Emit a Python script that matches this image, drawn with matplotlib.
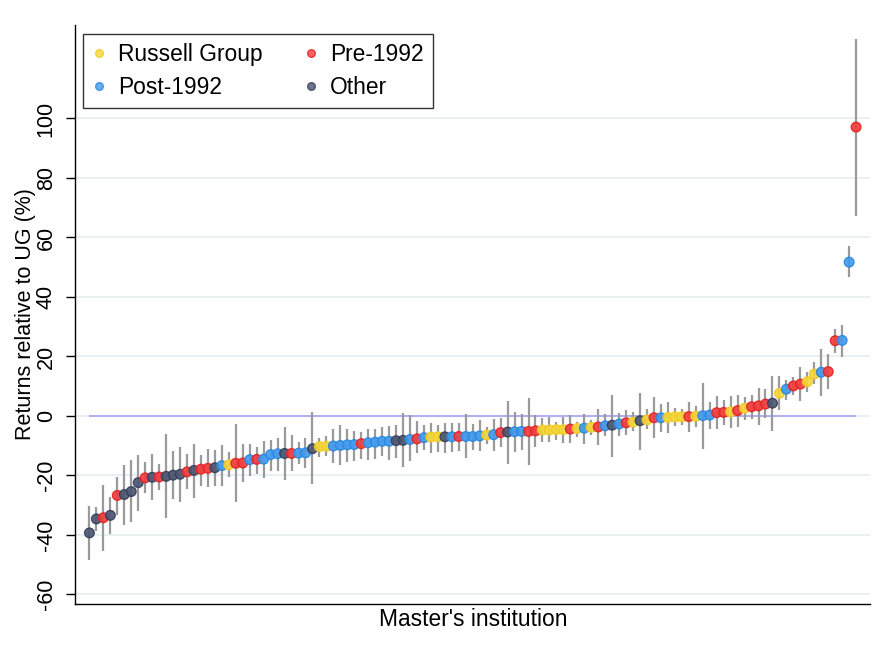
import numpy as np
import matplotlib
matplotlib.use("Agg")
import matplotlib.pyplot as plt
from matplotlib.lines import Line2D

plt.rcParams['font.family'] = ['Liberation Sans', 'DejaVu Sans']

# Institution group: R = Russell Group, P = Pre-1992, N = Post-1992, O = Other
groups = list(
    "OOPOPOOOPOPOOOPOPPONRPPNPNNNOPNNORRNNNNPNNNNOONPNRRONP"
    "NNNRNPONNPPRRRRPRNRPNONPRORP"
    "NRRRPRNNPPRPRPPPORNPPRRNPPNNP"
)

# Estimated return relative to UG (%)
returns = [
    -39.3, -34.6, -34.2, -33.4, -26.7, -26.4, -25.4, -22.4, -20.8, -20.6,
    -20.5, -20.3, -19.9, -19.6, -18.8, -18.3, -17.9, -17.6, -17.4, -16.7,
    -16.4, -15.9, -15.8, -14.7, -14.6, -14.5, -13.0, -12.7, -12.6, -12.6,
    -12.5, -12.4, -11.0, -10.3, -10.2, -10.1, -9.9, -9.7, -9.6, -9.3,
    -9.0, -8.8, -8.5, -8.5, -8.3, -8.2, -7.9, -7.7, -7.3, -7.1,
    -7.0, -7.0, -7.0, -6.9, -6.9, -6.9, -6.7, -6.4, -6.3, -5.6,
    -5.4, -5.3, -5.2, -5.2, -5.0, -4.7, -4.7, -4.6, -4.6, -4.4,
    -4.2, -4.1, -3.8, -3.7, -3.3, -3.1, -2.7, -2.3, -2.1, -1.6,
    -1.3, -0.6, -0.6, -0.5, -0.3, -0.3, -0.2, -0.1, 0.1, 0.3,
    1.1, 1.2, 1.4, 1.8, 2.6, 3.1, 3.4, 4.0, 4.3, 7.6,
    9.0, 10.1, 10.7, 11.5, 14.1, 14.7, 14.9, 25.3, 25.4, 51.7,
    97.1,
]

# Upper and lower ends of the confidence intervals
ci_upper = [
    -30.4, -30.7, -23.1, -27.3, -20.5, -16.4, -14.8, -13.2, -15.6, -12.8,
    -16.3, -6.0, -11.9, -10.4, -12.9, -9.4, -13.2, -11.1, -11.6, -9.6,
    -12.1, -2.7, -9.3, -9.4, -10.5, -8.5, -8.2, -7.4, -3.8, -6.4,
    -8.9, -7.4, 1.3, -7.4, -6.6, -4.4, -2.9, -4.4, -4.9, -5.3,
    -4.4, -4.4, -3.7, -3.5, -3.2, 1.0, 0.4, -1.8, -2.9, -2.3,
    -2.9, -2.3, -2.3, -2.3, 0.6, -2.7, -1.3, -3.8, -1.1, -0.8,
    5.2, 1.5, 0.7, 6.0, 0.3, -0.8, -0.4, -1.9, -0.2, 0.3,
    -1.9, 0.7, -1.3, 2.2, 0.7, 7.1, 1.1, 2.0, 1.3, 7.8,
    2.5, 6.3, 4.0, 4.8, 2.6, 2.2, 4.8, 3.4, 11.2, 4.8,
    6.7, 5.4, 6.7, 7.1, 6.5, 7.1, 9.3, 9.0, 13.5, 13.5,
    12.1, 13.2, 16.4, 14.9, 18.3, 22.5, 20.9, 29.2, 30.6, 57.0,
    126.8,
]
ci_lower = [
    -48.3, -38.8, -45.5, -39.6, -33.4, -36.5, -35.7, -31.8, -25.9, -28.4,
    -24.8, -34.4, -27.9, -28.8, -24.6, -27.6, -23.7, -24.0, -23.4, -23.6,
    -20.5, -28.9, -22.3, -20.1, -19.5, -20.8, -18.6, -18.5, -21.6, -18.5,
    -16.2, -17.5, -23.0, -13.7, -13.5, -15.8, -16.6, -15.5, -15.2, -14.4,
    -14.9, -14.4, -13.5, -14.9, -14.1, -17.1, -15.2, -12.4, -11.3, -12.4,
    -12.1, -12.4, -12.1, -11.8, -14.2, -11.4, -11.7, -9.4, -11.7, -10.5,
    -16.2, -12.0, -11.4, -16.5, -10.3, -8.6, -8.9, -8.1, -9.2, -9.2,
    -6.9, -9.4, -6.3, -9.8, -6.6, -13.7, -6.6, -6.3, -5.1, -11.4,
    -4.5, -7.5, -5.3, -5.8, -3.4, -3.0, -5.3, -3.8, -11.2, -4.4,
    -4.5, -3.0, -4.0, -3.6, -1.3, -0.9, -3.0, -0.8, -4.9, 2.0,
    5.4, 7.1, 5.0, 8.2, 10.8, 6.7, 9.0, 21.3, 19.8, 46.6,
    67.3,
]

group_names = {'R': 'Russell Group', 'P': 'Pre-1992', 'N': 'Post-1992', 'O': 'Other'}
face_colors = {'R': '#f9d736', 'P': '#f43b3b', 'N': '#3f9bf0', 'O': '#4a5470'}
edge_colors = {'R': '#f0c820', 'P': '#e02222', 'N': '#2a86dc', 'O': '#353e58'}
legend_order = ['R', 'N', 'P', 'O']

x = np.arange(1, len(returns) + 1)
y = np.array(returns)
lo = np.array(ci_lower)
hi = np.array(ci_upper)

fig = plt.figure(figsize=(8.84, 6.62), dpi=100)
ax = fig.add_axes([0.0854, 0.0876, 0.8988, 0.8746])

# horizontal grid and reference line at zero
yticks = np.arange(-60, 101, 20)
for t in yticks:
    ax.axhline(t, color='#e7eff1', lw=1.3, zorder=0)
ax.hlines(0, x[0], x[-1], color='#a9a9f2', lw=1.3, zorder=1)

# confidence intervals
ax.vlines(x, lo, hi, color='#9a9a9a', lw=1.6, zorder=2)

# point estimates coloured by group
fc = [face_colors[g] for g in groups]
ec = [edge_colors[g] for g in groups]
ax.scatter(x, y, s=48, c=fc, edgecolors=ec, linewidths=1.0, alpha=0.9, zorder=3)

ax.set_xlim(-1, 113)
ax.set_ylim(-63.2, 131.4)
ax.set_yticks(yticks)
ax.set_yticklabels([str(t) for t in yticks], rotation=90, va='center', fontsize=15.5)
ax.tick_params(axis='y', direction='out', length=6.5, width=1, pad=7)
ax.set_xticks([])

for side in ['top', 'right']:
    ax.spines[side].set_visible(False)
ax.spines['left'].set_linewidth(1.0)
ax.spines['bottom'].set_linewidth(1.0)

ax.set_ylabel("Returns relative to UG (%)", fontsize=15.5, labelpad=0)
ax.set_xlabel("Master's institution", fontsize=16.4, labelpad=3)

handles = [Line2D([], [], marker='o', ls='none', markersize=5.5,
                  markerfacecolor=face_colors[k], markeredgecolor=edge_colors[k],
                  alpha=0.8, label=group_names[k])
           for k in legend_order]
leg = ax.legend(handles=handles, ncol=2, loc='upper left',
                bbox_to_anchor=(0.0094, 0.9845), borderaxespad=0,
                fontsize=16.4, frameon=True, fancybox=False,
                handlelength=0.6, handletextpad=0.55, columnspacing=1.8,
                labelspacing=0.42, borderpad=0.4)
leg.get_frame().set_edgecolor('black')
leg.get_frame().set_linewidth(1.0)

fig.savefig("out.png", dpi=100)
